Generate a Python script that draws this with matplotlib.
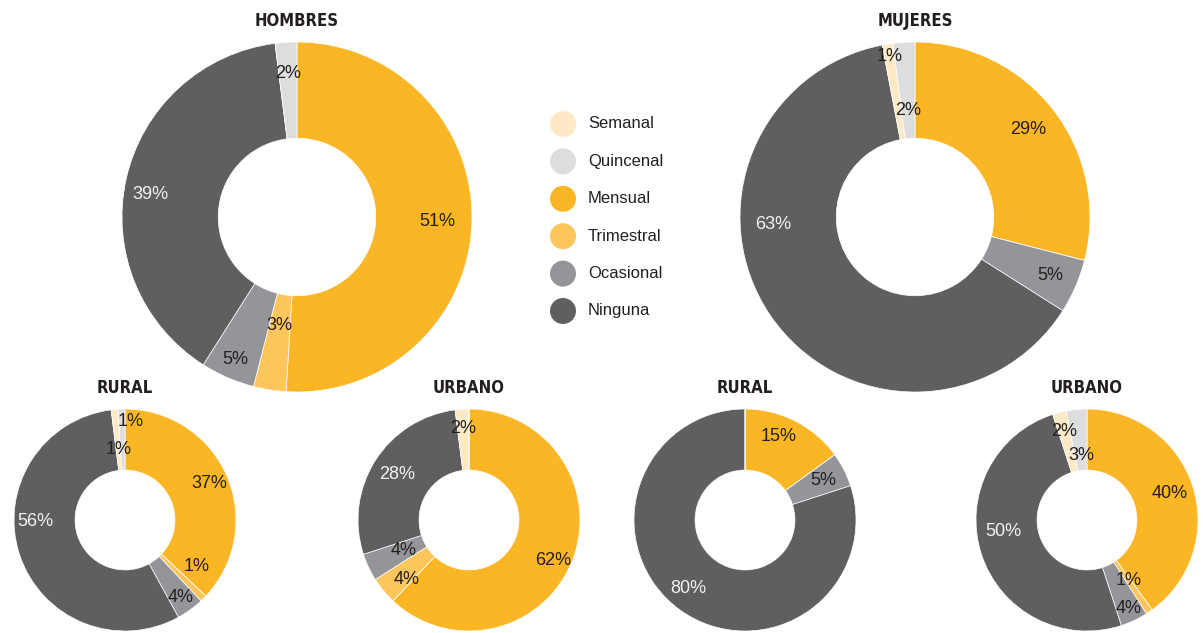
import numpy as np
import matplotlib
matplotlib.use("Agg")
import matplotlib.pyplot as plt

# ------------------------------------------------------------
# Data (order = clockwise from 12 o'clock)
# ------------------------------------------------------------
CATEGORIES = ["Mensual", "Trimestral", "Ocasional", "Ninguna", "Semanal", "Quincenal"]
LEGEND_ORDER = ["Semanal", "Quincenal", "Mensual", "Trimestral", "Ocasional", "Ninguna"]
COLORS = {
    "Semanal": "#FDE9C6",
    "Quincenal": "#DCDDDF",
    "Mensual": "#FBB626",
    "Trimestral": "#FDC65C",
    "Ocasional": "#939598",
    "Ninguna": "#5F5F62",
}

hombres = [51, 3, 5, 39, 0, 2]
mujeres = [29, 0, 5, 63, 1, 2]
hombres_rural = [37, 1, 4, 56, 1, 1]
hombres_urbano = [62, 4, 4, 28, 2, 0]
mujeres_rural = [15, 0, 5, 80, 0, 0]
mujeres_urbano = [40, 1, 4, 50, 2, 3]

# label placement per slice (layout only):
# radius as fraction of outer radius, angle nudge in degrees from slice middle
R_HOMBRES = [0.80, 0.63, 0.885, 0.845, 0.8, 0.82]
A_HOMBRES = [0, 0, 0, 4, 0, 0]
R_MUJERES = [0.82, 0.8, 0.84, 0.81, 0.93, 0.61]
A_MUJERES = [0, 0, 0, -31, 0, 0]
R_H_RURAL = [0.83, 0.77, 0.86, 0.81, 0.64, 0.89]
A_H_RURAL = [0, 12, 0, -17, 0, -5]
R_H_URBANO = [0.84, 0.78, 0.65, 0.77, 0.83, 0.8]
A_H_URBANO = [-4, 4, 0, 0, 0, 0]
R_M_RURAL = [0.81, 0.8, 0.79, 0.80, 0.8, 0.8]
A_M_RURAL = [5, 0, 0, -4, 0, 0]
R_M_URBANO = [0.78, 0.66, 0.88, 0.76, 0.82, 0.58]
A_M_URBANO = [0, 0, 0, -10, 0, 0]

W, H = 1203, 633
TITLE_FONT = ["Liberation Sans Narrow", "DejaVu Sans"]
LABEL_FONT = ["Liberation Sans", "DejaVu Sans"]
TEXT_DARK = "#231F20"

fig = plt.figure(figsize=(W / 100, H / 100), dpi=100)


def donut(cx, cy, r, values, radii, nudges, title, fs):
    ax = fig.add_axes([(cx - r) / W, 1 - (cy + r) / H, 2 * r / W, 2 * r / H])
    cols = [COLORS[c] for c in CATEGORIES]
    ax.pie(values, colors=cols, startangle=90, counterclock=False, radius=1,
           wedgeprops=dict(width=0.55, edgecolor="white", linewidth=0.5))
    ax.set_xlim(-1, 1)
    ax.set_ylim(-1, 1)
    ax.set_aspect("equal")
    ax.axis("off")
    total = float(sum(values))
    cum = 0.0
    for v, rr, nd, cat in zip(values, radii, nudges, CATEGORIES):
        if v > 0:
            mid = (cum + v / 2) / total * 360
            ang = np.deg2rad(90 - mid + nd)
            col = "#F2F2F2" if cat == "Ninguna" else TEXT_DARK
            ax.text(rr * np.cos(ang), rr * np.sin(ang), f"{v}%",
                    ha="center", va="center", fontsize=fs, color=col,
                    family=LABEL_FONT)
        cum += v
    fig.text(cx / W, 1 - (cy - r - 21) / H, title, ha="center", va="center",
             fontsize=12, fontweight="bold", fontstretch="condensed",
             family=TITLE_FONT, color=TEXT_DARK)


donut(297, 217, 175, hombres, R_HOMBRES, A_HOMBRES, "HOMBRES", 13)
donut(915, 217, 175, mujeres, R_MUJERES, A_MUJERES, "MUJERES", 13)
donut(125, 520, 111, hombres_rural, R_H_RURAL, A_H_RURAL, "RURAL", 13)
donut(469, 520, 111, hombres_urbano, R_H_URBANO, A_H_URBANO, "URBANO", 13)
donut(745, 520, 111, mujeres_rural, R_M_RURAL, A_M_RURAL, "RURAL", 13)
donut(1087, 520, 111, mujeres_urbano, R_M_URBANO, A_M_URBANO, "URBANO", 13)

# legend
lax = fig.add_axes([0, 0, 1, 1], facecolor="none")
lax.set_xlim(0, W)
lax.set_ylim(H, 0)
lax.axis("off")
for i, cat in enumerate(LEGEND_ORDER):
    y = 124 + i * 37.4
    lax.add_patch(plt.Circle((563, y), 13, color=COLORS[cat], lw=0))
    lax.text(588, y, cat, ha="left", va="center", fontsize=12,
             color=TEXT_DARK, family=LABEL_FONT)

fig.savefig("out.png", dpi=100)
